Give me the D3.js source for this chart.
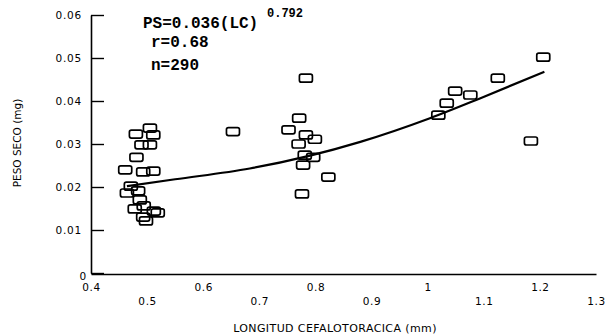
<!DOCTYPE html>
<html>
<head>
<meta charset="utf-8">
<script src="https://cdn.jsdelivr.net/npm/d3@7/dist/d3.min.js"></script>
<style>
    body { margin: 0; background: #fff; }
</style>
</head>
<body>
<script>
// tick values
const xTicks = [0.4, 0.5, 0.6, 0.7, 0.8, 0.9, 1, 1.1, 1.2, 1.3];
const yTicks = [0, 0.01, 0.02, 0.03, 0.04, 0.05, 0.06];

// observed points: longitud cefalotoracica (mm) / peso seco (mg)
const lc = [
    0.480, 0.505, 0.511, 0.490, 0.505, 0.481, 0.461, 0.493, 0.511, 0.471,
    0.464, 0.484, 0.487, 0.494, 0.478, 0.512, 0.493, 0.498, 0.519,
    0.653,
    0.783, 0.771, 0.752, 0.783, 0.799, 0.770, 0.781, 0.796, 0.778, 0.823, 0.776,
    1.019, 1.034, 1.049, 1.076, 1.125, 1.206, 1.184
];
const ps = [
    0.0323, 0.0337, 0.0321, 0.0298, 0.0298, 0.0269, 0.0240, 0.0235, 0.0237, 0.0202,
    0.0186, 0.0191, 0.0170, 0.0156, 0.0149, 0.0144, 0.0130, 0.0121, 0.0140,
    0.0329,
    0.0453, 0.0360, 0.0333, 0.0321, 0.0311, 0.0300, 0.0274, 0.0269, 0.0251, 0.0223, 0.0184,
    0.0367, 0.0395, 0.0423, 0.0414, 0.0453, 0.0502, 0.0307
];

// fitted curve
const fitLC = [0.464, 0.55, 0.683, 0.88, 1.004, 1.093, 1.208];
const fitPS = [0.0202, 0.0218, 0.0243, 0.0305, 0.0360, 0.0406, 0.0468];

function renderChart() {

    let w = 610,
        h = 336;

    let svg = d3.select("body").append("svg")
        .attr("width", w)
        .attr("height", h);

    let x = d3.scaleLinear().domain([0.4, 1.3]).range([91, 596]);
    let y = d3.scaleLinear().domain([0, 0.06]).range([273, 15]);

    // y axis, ticks pointing into the plot
    let yAxis = svg.append("g")
        .attr("transform", "translate(" + x(0.4) + ",0)")
        .call(d3.axisLeft(y)
            .tickValues(yTicks)
            .tickSize(-13)
            .tickSizeOuter(0)
            .tickPadding(9)
            .tickFormat(d3.format("")));

    yAxis.select(".domain").attr("stroke-width", 1.6);
    yAxis.selectAll(".tick line").attr("stroke-width", 1.4);
    yAxis.selectAll(".tick text")
        .attr("font-family", "DejaVu Sans")
        .attr("font-size", 10.5)
        .attr("letter-spacing", 0.8)
        .attr("fill", "#000");
    yAxis.selectAll(".tick")
        .filter(function (d) { return d === 0; })
        .select("text")
        .attr("x", -4)
        .attr("dy", "0.6em");

    // x axis, labels in two staggered rows
    let xAxis = svg.append("g")
        .attr("transform", "translate(0," + (y(0) + 1) + ")")
        .call(d3.axisBottom(x)
            .tickValues(xTicks)
            .tickSize(0)
            .tickPadding(10)
            .tickFormat(d3.format("")));

    xAxis.select(".domain").attr("stroke-width", 1.6);
    xAxis.selectAll(".tick text")
        .attr("font-family", "DejaVu Sans")
        .attr("font-size", 10.5)
        .attr("letter-spacing", 0.6)
        .attr("fill", "#000")
        .attr("y", function (d, i) {
            return i % 2 === 0 ? 10 : 24;
        });

    // axis titles
    svg.append("text")
        .attr("x", 335)
        .attr("y", 332)
        .attr("text-anchor", "middle")
        .attr("font-family", "DejaVu Sans")
        .attr("font-size", 11)
        .attr("letter-spacing", 0.4)
        .text("LONGITUD CEFALOTORACICA (mm)");

    svg.append("text")
        .attr("transform", "translate(21,143) rotate(-90)")
        .attr("text-anchor", "middle")
        .attr("font-family", "DejaVu Sans")
        .attr("font-size", 10.5)
        .text("PESO SECO (mg)");

    // fitted line
    let line = d3.line()
        .x(function (d) { return x(d[0]); })
        .y(function (d) { return y(d[1]); })
        .curve(d3.curveMonotoneX);

    svg.append("path")
        .datum(d3.zip(fitLC, fitPS))
        .attr("d", line)
        .attr("fill", "none")
        .attr("stroke", "#000")
        .attr("stroke-width", 2.2);

    // open box markers
    svg.selectAll("rect.pt")
        .data(d3.zip(lc, ps))
        .enter().append("rect")
        .attr("class", "pt")
        .attr("x", function (d) { return x(d[0]) - 6.5; })
        .attr("y", function (d) { return y(d[1]) - 4; })
        .attr("width", 13)
        .attr("height", 8)
        .attr("rx", 2)
        .attr("fill", "none")
        .attr("stroke", "#000")
        .attr("stroke-width", 1.7);

    // equation block
    let eq = svg.append("g")
        .attr("font-family", "Liberation Mono")
        .attr("font-weight", "bold")
        .attr("fill", "#000");

    eq.append("text").attr("x", 143).attr("y", 28).attr("font-size", 16).text("PS=0.036(LC)");
    eq.append("text").attr("x", 267).attr("y", 17).attr("font-size", 12).text("0.792");
    eq.append("text").attr("x", 151).attr("y", 47).attr("font-size", 16).text("r=0.68");
    eq.append("text").attr("x", 151).attr("y", 70).attr("font-size", 16).text("n=290");
}

renderChart();
</script>
</body>
</html>
